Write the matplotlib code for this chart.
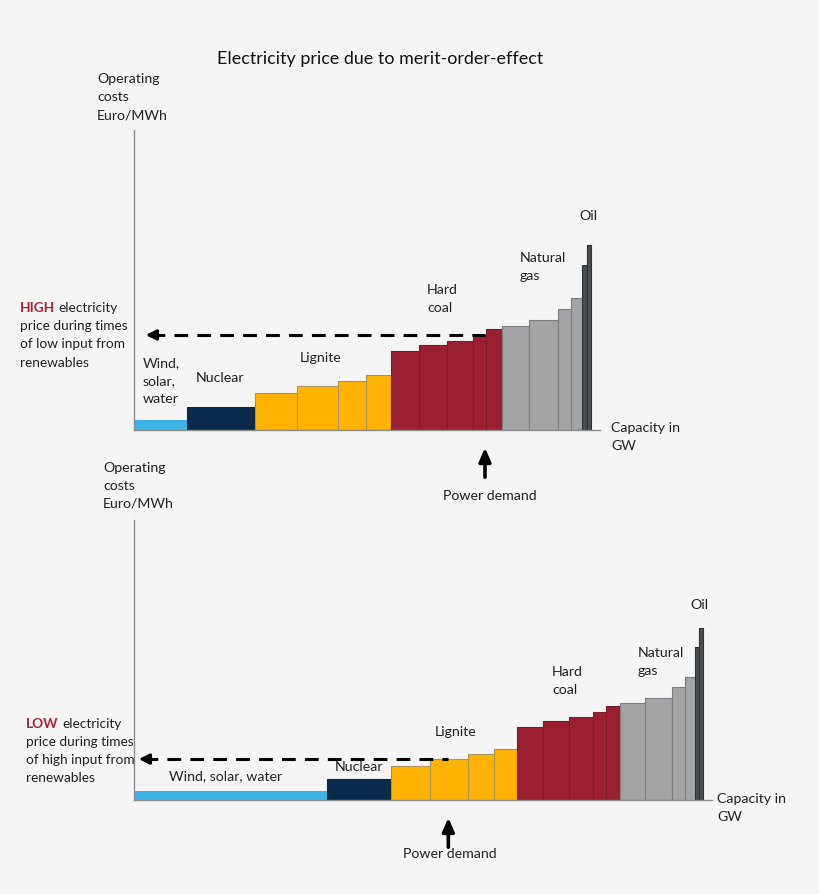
import matplotlib
matplotlib.use("Agg")
import matplotlib.pyplot as plt
from matplotlib.transforms import blended_transform_factory

plt.rcParams['font.family'] = ['Lato', 'DejaVu Sans']

# ---------------- data ----------------
title = "Electricity price due to merit-order-effect"
ylabel = "Operating\ncosts\nEuro/MWh"
xlabel = "Capacity in\nGW"

groups = ["Wind, solar, water", "Nuclear", "Lignite", "Hard coal", "Natural gas", "Oil"]
# capacities (GW, relative) and operating costs (relative) per power plant block
cap_nuclear = [68]
cost_nuclear = [23]
cap_lignite = [42, 41, 28, 25]
cost_lignite = [37, 44, 49, 55]
cap_hardcoal = [28, 28, 26, 13, 16]
cost_hardcoal = [79, 85, 89, 95, 101]
cap_gas = [27, 29, 13, 11]
cost_gas = [104, 110, 121, 132]
cap_oil = [5, 4]
cost_oil = [165, 185]
cost_renew = [10]
cap_renew_low_input = [53]     # top panel: low renewable input
cap_renew_high_input = [208]   # bottom panel: high renewable input
demand_top = 351
demand_bottom = 338

colors = {
    "Wind, solar, water": ("#3fb2e4", "#3fb2e4"),
    "Nuclear": ("#0c2a4c", "#0c2a4c"),
    "Lignite": ("#ffb300", "#a8935a"),
    "Hard coal": ("#9a1f33", "#7a1a2a"),
    "Natural gas": ("#a2a4a6", "#7c7e80"),
    "Oil": ("#4b4e51", "#2f3234"),
}

W, H = 820, 894
BG = "#f5f5f5"
TXT = "#222222"
fig = plt.figure(figsize=(W / 100, H / 100), dpi=100, facecolor=BG)
renderer = fig.canvas.get_renderer()


def fx(px):
    return px / W


def fy(py):
    return 1 - py / H


def draw_panel(left, top, bottom, right, scale, cap_renew, demand, arrow_left_px):
    width_px = right - left
    height_px = bottom - top
    ax = fig.add_axes([fx(left), fy(bottom), width_px / W, height_px / H])
    ax.set_facecolor(BG)
    ax.set_xlim(0, width_px / scale)
    ax.set_ylim(0, height_px / scale)
    for s in ["top", "right"]:
        ax.spines[s].set_visible(False)
    for s in ["left", "bottom"]:
        ax.spines[s].set_color("#8c8c8c")
        ax.spines[s].set_linewidth(1.0)
    ax.set_xticks([])
    ax.set_yticks([])

    blocks = [("Wind, solar, water", cap_renew, cost_renew),
              ("Nuclear", cap_nuclear, cost_nuclear),
              ("Lignite", cap_lignite, cost_lignite),
              ("Hard coal", cap_hardcoal, cost_hardcoal),
              ("Natural gas", cap_gas, cost_gas),
              ("Oil", cap_oil, cost_oil)]
    x0 = 0
    price = None
    for name, caps, costs in blocks:
        fc, ec = colors[name]
        for c, v in zip(caps, costs):
            ax.bar(x0, v, width=c, align="edge", color=fc, edgecolor=ec,
                   linewidth=0.8, zorder=2)
            if x0 <= demand < x0 + c:
                price = v
            x0 += c
    # dashed price line with arrow head
    left_end = arrow_left_px / scale
    ax.plot([left_end + 8 / scale, demand], [price, price], color="black",
            lw=2.2, ls=(0, (4.5, 3)), zorder=3, solid_capstyle="butt",
            dash_capstyle="butt")
    ax.annotate("", xy=(left_end, price), xytext=(left_end + 14 / scale, price),
                arrowprops=dict(arrowstyle="-|>,head_length=0.6,head_width=0.3",
                                color="black", lw=2.2), zorder=4)
    # power demand arrow below axis
    trans = blended_transform_factory(ax.transData, fig.transFigure)
    ax.annotate("", xy=(demand, fy(bottom + 15)), xycoords=trans,
                xytext=(demand, fy(bottom + 50)), textcoords=trans,
                arrowprops=dict(arrowstyle="-|>,head_length=0.8,head_width=0.35",
                                color="black", lw=2.6), annotation_clip=False)
    return ax


FS = 10.2
FS_SIDE = 9.8
LS = 1.6


def label(x, y, s, ha="left", va="top", **kw):
    return fig.text(fx(x), fy(y), s, ha=ha, va=va, fontsize=FS,
                    linespacing=LS, color=TXT, **kw)


def lead_text(x, y, word, rest_first, rest_lines):
    t = fig.text(fx(x), fy(y), word, ha="left", va="center", fontsize=FS_SIDE,
                 fontweight="bold", color="#a3263a")
    bb = t.get_window_extent(renderer)
    fig.text(bb.x1 / W + 3.5 / W, fy(y), rest_first, ha="left", va="center",
             fontsize=FS_SIDE, color=TXT)
    fig.text(fx(x), fy(y + 11.5), rest_lines, ha="left", va="top",
             fontsize=FS_SIDE, linespacing=1.65, color=TXT)


fig.text(fx(380), fy(59), title, ha="center", va="center", fontsize=12.9,
         color="#111111")

# ---------- top panel ----------
draw_panel(134, 130, 430, 600, 1.0, cap_renew_low_input, demand_top, 9)
label(97, 73, ylabel)
label(143, 357, "Wind,\nsolar,\nwater")
label(220, 378, "Nuclear", ha="center", va="center")
label(321, 358, "Lignite", ha="center", va="center")
label(427, 284, "Hard\ncoal")
label(520, 252, "Natural\ngas")
label(588, 216, "Oil", ha="center", va="center")
label(611, 422, xlabel)
label(490, 496, "Power demand", ha="center", va="center")
lead_text(20, 308, "HIGH", "electricity",
          "price during times\nof low input from\nrenewables")

# ---------- bottom panel ----------
draw_panel(134, 520, 800, 712, 0.93, cap_renew_high_input, demand_bottom, 2)
label(103, 462, ylabel)
label(226, 776, "Wind, solar, water", ha="center", va="center")
label(359, 767, "Nuclear", ha="center", va="center")
label(456, 732, "Lignite", ha="center", va="center")
label(552, 666, "Hard\ncoal")
label(638, 647, "Natural\ngas")
label(699, 605, "Oil", ha="center", va="center")
label(717, 793, xlabel)
label(450, 854, "Power demand", ha="center", va="center")
lead_text(26, 724, "LOW", "electricity",
          "price during times\nof high input from\nrenewables")

fig.savefig("out.png", dpi=100, facecolor=BG)
